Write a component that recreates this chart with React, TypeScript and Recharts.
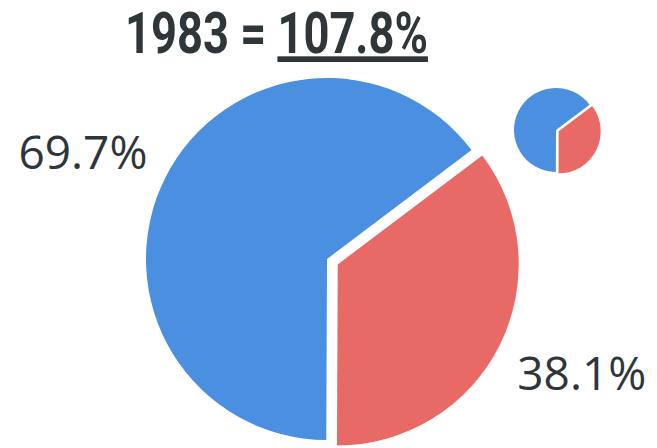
import React, { useLayoutEffect, useRef, useState } from "react";
import { PieChart, Pie, Cell, Sector } from "recharts";

// shares of 1983 (sum is 107.8%)
const categories = ["Share A", "Share B"];
const values = [69.7, 38.1];
const titleYear = "1983";
const titleTotal = "107.8%";

const COLORS = ["#4a8fe0", "#e86a66"];
const TEXT = "#2f3639";
const RADIAN = Math.PI / 180;

const data = categories.map((name, i) => ({ name, value: values[i] }));

// how far each slice is pulled out of the pie
const bigExplode: Record<string, number> = { "Share B": 12 };
const smallExplode: Record<string, number> = { "Share B": 3 };

const explodedShape = (explode: Record<string, number>) => (p: any) => {
  const d = explode[p.name] ?? 0;
  const a = -p.midAngle * RADIAN;
  return (
    <Sector
      cx={p.cx + d * Math.cos(a)}
      cy={p.cy + d * Math.sin(a)}
      innerRadius={p.innerRadius}
      outerRadius={p.outerRadius}
      startAngle={p.startAngle}
      endAngle={p.endAngle}
      fill={p.fill}
      stroke="none"
    />
  );
};

const renderLabel = (p: any) => {
  const d = bigExplode[p.name] ?? 0;
  const a = -p.midAngle * RADIAN;
  const x = p.cx + (273 + d) * Math.cos(a);
  const y = p.cy + (240 + d) * Math.sin(a);
  return (
    <text
      x={x}
      y={y}
      textAnchor="middle"
      dominantBaseline="central"
      fill={TEXT}
      fontFamily="'Open Sans', sans-serif"
      fontSize={46}
    >
      {`${p.value}%`}
    </text>
  );
};

// title is Calibri-like (narrow), so squeeze a bold sans to the same width
function Title() {
  const ref = useRef<SVGTextElement>(null);
  const [sx, setSx] = useState(0.8);
  useLayoutEffect(() => {
    if (ref.current) {
      const w = ref.current.getComputedTextLength();
      if (w > 0) setSx(303 / w);
    }
  }, []);
  return (
    <g transform={`translate(125,53) scale(${sx},1)`}>
      <text
        ref={ref}
        x={0}
        y={0}
        fill={TEXT}
        fontFamily="Roboto, sans-serif"
        fontWeight={700}
        fontSize={57}
      >
        {`${titleYear} = `}
        <tspan style={{ textDecoration: "underline" }}>{titleTotal}</tspan>
      </text>
    </g>
  );
}

export default function App() {
  const bigShape = explodedShape(bigExplode);
  const smallShape = explodedShape(smallExplode);
  return (
    <div style={{ position: "absolute", left: 0, top: 0, width: 657, height: 448, background: "#fff", overflow: "hidden" }}>
      <PieChart width={657} height={448} margin={{ top: 0, right: 0, bottom: 0, left: 0 }}>
        <Pie
          data={data}
          dataKey="value"
          nameKey="name"
          cx={327}
          cy={259}
          outerRadius={181}
          startAngle={37}
          endAngle={397}
          stroke="none"
          isAnimationActive={false}
          shape={bigShape}
          label={renderLabel}
          labelLine={false}
        >
          {data.map((d, i) => (
            <Cell key={d.name} fill={COLORS[i]} />
          ))}
        </Pie>
        <Pie
          data={data}
          dataKey="value"
          nameKey="name"
          cx={556}
          cy={130}
          outerRadius={42}
          startAngle={37}
          endAngle={397}
          stroke="none"
          isAnimationActive={false}
          shape={smallShape}
        >
          {data.map((d, i) => (
            <Cell key={d.name} fill={COLORS[i]} />
          ))}
        </Pie>
        <Title />
      </PieChart>
    </div>
  );
}
